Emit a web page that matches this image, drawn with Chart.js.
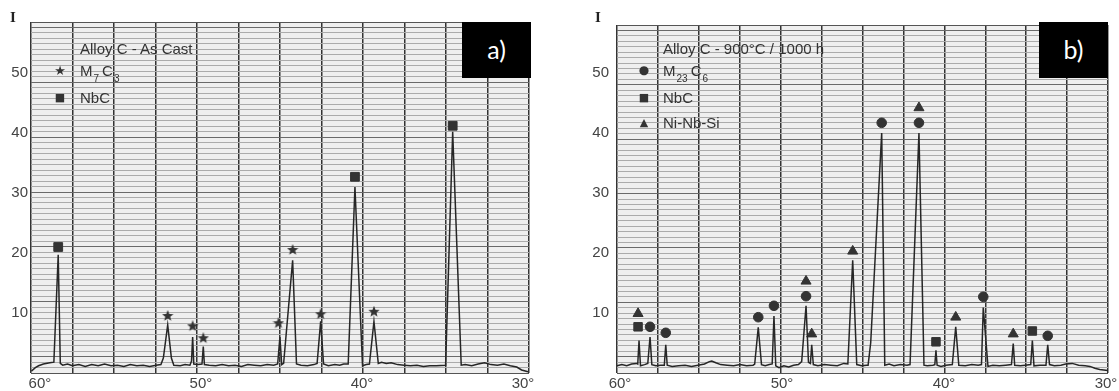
<!DOCTYPE html>
<html>
<head>
<meta charset="utf-8">
<script src="https://cdn.jsdelivr.net/npm/chart.js@4/dist/chart.umd.min.js"></script>
<style>
  body { margin: 0; background: #fff; width: 1119px; height: 391px; overflow: hidden; position: relative; font-family: "Liberation Sans", Arial, sans-serif; }
  canvas { position: absolute; top: 0; }
  #leftChart { left: 0; }
  #rightChart { left: 555px; }
  .txt { position: absolute; color: #333; font-size: 15px; line-height: 15px; white-space: nowrap; }
  .txt sub { font-size: 10px; vertical-align: -6px; line-height: 0; margin: 0 3px 0 1px; }
  .sym { position: absolute; color: #333; line-height: 1; transform: translate(-50%, -50%); font-family: "DejaVu Sans", sans-serif; }
  .ilabel { position: absolute; font-family: "Liberation Serif", serif; font-weight: bold; font-size: 15px; color: #222; }
  .tag { position: absolute; top: 22px; width: 69px; height: 56px; line-height: 54px; background: #000; color: #fff; font-family: Lato, "Open Sans", sans-serif; font-size: 25px; text-align: center; }
</style>
</head>
<body>
<canvas id="leftChart" width="555" height="391"></canvas>
<canvas id="rightChart" width="564" height="391"></canvas>

<div class="ilabel" style="left:10px; top:9px;">I</div>
<div class="ilabel" style="left:595px; top:9px;">I</div>

<!-- legende a) -->
<div class="txt" style="left:80px; top:41px;">Alloy C - As Cast</div>
<div class="sym" style="left:60px; top:70px; font-size:13px;">★</div>
<div class="txt" style="left:80px; top:63px;">M<sub>7</sub>C<sub>3</sub></div>
<div class="sym" style="left:60px; top:97px; font-size:11px;">■</div>
<div class="txt" style="left:80px; top:90px;">NbC</div>

<!-- legende b) -->
<div class="txt" style="left:663px; top:41px;">Alloy C - 900°C / 1000 h</div>
<div class="sym" style="left:644px; top:70px; font-size:12px;">●</div>
<div class="txt" style="left:663px; top:63px;">M<sub>23</sub>C<sub>6</sub></div>
<div class="sym" style="left:644px; top:97px; font-size:11px;">■</div>
<div class="txt" style="left:663px; top:90px;">NbC</div>
<div class="sym" style="left:644px; top:122px; font-size:11px;">▲</div>
<div class="txt" style="left:663px; top:115px;">Ni-Nb-Si</div>

<div class="tag" style="left:462px;">a)</div>
<div class="tag" style="left:1039px;">b)</div>

<script>
// axes
const xTicks = [60, 50, 40, 30];
const yTicks = [10, 20, 30, 40, 50];

// a) Alloy C - As Cast : trace (2 theta, I)
const leftAngles = [60.35, 60.1, 59.9, 59.6, 59.2, 58.95, 58.68, 58.55, 58.4, 58.1, 57.8, 57.4, 57.0, 56.6, 56.2, 55.8, 55.4, 55.0, 54.6, 54.2, 53.8, 53.4, 53.0, 52.6, 52.3, 52.15, 51.88, 51.65, 51.5, 51.1, 50.8, 50.5, 50.4, 50.33, 50.26, 50.0, 49.75, 49.67, 49.6, 49.3, 48.9, 48.5, 48.1, 47.7, 47.3, 46.9, 46.5, 46.1, 45.7, 45.3, 45.05, 44.91, 44.8, 44.68, 44.12, 43.88, 43.6, 43.2, 42.8, 42.6, 42.38, 42.2, 41.9, 41.5, 41.2, 40.95, 40.67, 40.25, 39.78, 39.55, 39.35, 39.07, 38.8, 38.6, 38.3, 38.0, 37.6, 37.2, 36.8, 36.4, 36.0, 35.6, 35.2, 34.62, 34.18, 33.65, 33.4, 33.0, 32.6, 32.2, 31.8, 31.4, 31.0, 30.6, 30.2, 29.9, 29.5];
const leftCounts = [0.3, 0.9, 1.2, 1.5, 1.7, 1.8, 19.7, 1.6, 1.3, 1.5, 1.2, 1.4, 1.1, 1.4, 1.2, 1.5, 1.2, 1.3, 1.1, 1.4, 1.2, 1.3, 1.1, 1.3, 1.4, 2.5, 8.0, 2.5, 1.3, 1.2, 1.4, 1.3, 2.0, 6.0, 1.5, 1.4, 1.5, 4.4, 1.4, 1.3, 1.2, 1.4, 1.2, 1.3, 1.1, 1.4, 1.3, 1.2, 1.4, 1.3, 1.5, 6.0, 1.4, 1.6, 18.8, 1.5, 1.3, 1.2, 1.4, 1.6, 8.6, 1.5, 1.2, 1.4, 1.3, 1.5, 1.5, 31.0, 1.2, 1.4, 1.5, 8.6, 1.6, 1.8, 1.6, 1.7, 1.4, 1.3, 1.2, 1.3, 1.1, 1.2, 1.2, 1.3, 40.2, 1.3, 1.4, 1.2, 1.5, 1.7, 1.4, 1.3, 1.5, 1.2, 1.0, 0.5, 0.2];

// a) reperes de phases
const leftNbcAngles = [58.68, 40.25, 34.18];
const leftNbcHeights = [21.0, 32.7, 41.2];
const leftM7c3Angles = [51.88, 50.33, 49.67, 45.0, 44.12, 42.38, 39.07];
const leftM7c3Heights = [9.5, 7.8, 5.8, 8.3, 20.5, 9.8, 10.2];

// b) Alloy C - 900°C / 1000 h : trace
const rightAngles = [60.0, 59.7, 59.4, 59.1, 58.8, 58.72, 58.64, 58.55, 58.3, 58.1, 57.96, 57.85, 57.6, 57.3, 57.08, 56.99, 56.9, 56.6, 56.2, 55.8, 55.4, 55.0, 54.6, 54.3, 54.15, 53.9, 53.6, 53.2, 52.8, 52.4, 52.0, 51.6, 51.5, 51.28, 51.08, 50.85, 50.6, 50.42, 50.31, 50.2, 50.0, 49.7, 49.4, 49.1, 48.8, 48.6, 48.33, 48.18, 48.06, 47.98, 47.88, 47.6, 47.2, 46.8, 46.4, 46.0, 45.75, 45.45, 45.2, 44.9, 44.6, 44.5, 44.34, 43.66, 43.47, 43.2, 42.9, 42.5, 42.1, 41.91, 41.36, 41.05, 40.85, 40.5, 40.38, 40.31, 40.24, 40.0, 39.7, 39.3, 39.09, 38.9, 38.5, 38.1, 37.7, 37.5, 37.39, 37.1, 36.8, 36.4, 36.0, 35.65, 35.54, 35.45, 35.1, 34.8, 34.46, 34.36, 34.26, 33.9, 33.52, 33.41, 33.3, 33.0, 32.6, 32.3, 31.9, 31.5, 31.1, 30.8, 30.5, 30.2, 29.7];
const rightCounts = [1.2, 1.4, 1.2, 1.5, 1.6, 1.5, 5.4, 1.2, 1.4, 1.6, 6.0, 1.4, 1.2, 1.3, 1.3, 4.7, 1.3, 1.1, 1.2, 1.3, 1.1, 1.3, 1.5, 1.9, 2.0, 1.7, 1.4, 1.3, 1.2, 1.4, 1.2, 1.3, 1.5, 7.6, 1.4, 1.2, 1.4, 1.5, 9.5, 1.2, 0.9, 1.2, 1.0, 1.3, 1.4, 1.9, 11.2, 1.8, 1.6, 4.7, 1.4, 1.2, 1.4, 1.3, 1.2, 1.6, 1.5, 18.8, 1.4, 1.2, 1.3, 1.3, 5.0, 40.0, 1.3, 1.5, 1.2, 1.4, 1.3, 1.4, 40.0, 1.3, 1.2, 1.3, 1.4, 3.8, 1.3, 1.1, 1.3, 1.4, 7.7, 1.3, 1.2, 1.4, 1.3, 1.4, 10.9, 1.1, 1.3, 1.2, 1.3, 1.4, 4.9, 1.3, 1.2, 1.3, 1.4, 5.4, 1.2, 1.3, 1.3, 4.7, 1.4, 1.2, 1.3, 1.5, 1.6, 1.3, 1.2, 1.1, 0.8, 0.6, 0.4];

// b) reperes de phases
const rightM23c6Angles = [57.96, 56.99, 51.28, 50.31, 48.33, 43.66, 41.36, 37.39, 33.41];
const rightM23c6Heights = [7.7, 6.7, 9.3, 11.2, 12.8, 41.7, 41.7, 12.7, 6.2];
const rightNbcAngles = [58.7, 40.31, 34.36];
const rightNbcHeights = [7.7, 5.2, 7.0];
const rightNiNbSiAngles = [58.7, 48.33, 47.98, 45.45, 41.36, 39.09, 35.54];
const rightNiNbSiHeights = [9.9, 15.3, 6.5, 20.3, 44.2, 9.3, 6.5];

const ink = '#333';

function toPoints(xs, ys) {
    return xs.map((x, i) => ({ x: x, y: ys[i] }));
}

// etoile pleine pour M7C3
function etoile(size) {
    const c = document.createElement('canvas');
    c.width = size; c.height = size;
    const g = c.getContext('2d');
    g.fillStyle = ink;
    g.beginPath();
    for (let i = 0; i < 10; i++) {
        const r = i % 2 === 0 ? size / 2 : size / 4.6;
        const a = -Math.PI / 2 + i * Math.PI / 5;
        g.lineTo(size / 2 + r * Math.cos(a), size / 2 + r * Math.sin(a));
    }
    g.closePath();
    g.fill();
    return c;
}

function markers(xs, ys, style, radius) {
    return {
        type: 'scatter',
        data: toPoints(xs, ys),
        showLine: false,
        pointStyle: style,
        pointRadius: radius,
        backgroundColor: ink,
        borderColor: ink,
        borderWidth: 1
    };
}

// fond du papier
const papier = {
    id: 'papier',
    beforeDraw(chart) {
        const a = chart.chartArea;
        const ctx = chart.ctx;
        ctx.save();
        ctx.fillStyle = '#efefef';
        ctx.fillRect(a.left, a.top, a.right - a.left, a.bottom - a.top);
        ctx.restore();
    }
};

function graphique(id, o, datasets) {
    const font = { family: '"Liberation Sans", Arial, sans-serif', size: 15 };
    return new Chart(document.getElementById(id), {
        type: 'line',
        data: { datasets: datasets },
        options: {
            responsive: false,
            animation: false,
            layout: { padding: { left: 0, top: o.top, right: o.right, bottom: 0 } },
            plugins: { legend: { display: false }, tooltip: { enabled: false } },
            scales: {
                x: {
                    type: 'linear', reverse: true, min: o.xMin, max: o.xMax,
                    afterBuildTicks: s => { s.ticks = xTicks.map(v => ({ value: v })); },
                    ticks: { callback: v => v + '°', font: font, color: '#444', padding: 2, labelOffset: 3, maxRotation: 0, autoSkip: false },
                    grid: { display: false, drawTicks: false },
                    border: { display: false },
                    afterFit: s => { s.height = 18; }
                },
                xg: {
                    type: 'linear', position: 'bottom', min: 0, max: 12,
                    ticks: { display: false, stepSize: 1 },
                    grid: { color: '#333', lineWidth: 1.5, drawTicks: false },
                    border: { display: false },
                    afterFit: s => { s.height = 0; }
                },
                y: {
                    type: 'linear', min: 0, max: o.yMax,
                    afterBuildTicks: s => { s.ticks = yTicks.map(v => ({ value: v })); },
                    ticks: { font: font, color: '#444', padding: o.yPad },
                    grid: { display: false, drawTicks: false },
                    border: { display: false },
                    afterFit: s => { s.width = o.yWidth; }
                },
                yg: {
                    type: 'linear', position: 'left', min: 0, max: 64,
                    ticks: { display: false, stepSize: 1 },
                    grid: {
                        color: c => (c.tick.value === 0 || c.tick.value === 64) ? '#555' : (c.tick.value % 10 === 3 ? '#6a6a6a' : '#ababab'),
                        lineWidth: 1, drawTicks: false
                    },
                    border: { display: false },
                    afterFit: s => { s.width = 0; }
                }
            }
        },
        plugins: [papier]
    });
}

const trace = (xs, ys) => ({
    data: toPoints(xs, ys),
    borderColor: '#262626',
    borderWidth: 1.5,
    pointRadius: 0,
    tension: 0,
    fill: false
});

graphique('leftChart', { top: 22, right: 26, yWidth: 31, yPad: 3, xMin: 29.44, xMax: 60.37, yMax: 58.5 }, [
    trace(leftAngles, leftCounts),
    markers(leftNbcAngles, leftNbcHeights, 'rect', 6.2),
    markers(leftM7c3Angles, leftM7c3Heights, etoile(12), 6)
]);

graphique('rightChart', { top: 25, right: 11, yWidth: 62, yPad: 8, xMin: 29.69, xMax: 60.0, yMax: 58 }, [
    trace(rightAngles, rightCounts),
    markers(rightM23c6Angles, rightM23c6Heights, 'circle', 4.8),
    markers(rightNbcAngles, rightNbcHeights, 'rect', 6),
    markers(rightNiNbSiAngles, rightNiNbSiHeights, 'triangle', 5.8)
]);
</script>
</body>
</html>
